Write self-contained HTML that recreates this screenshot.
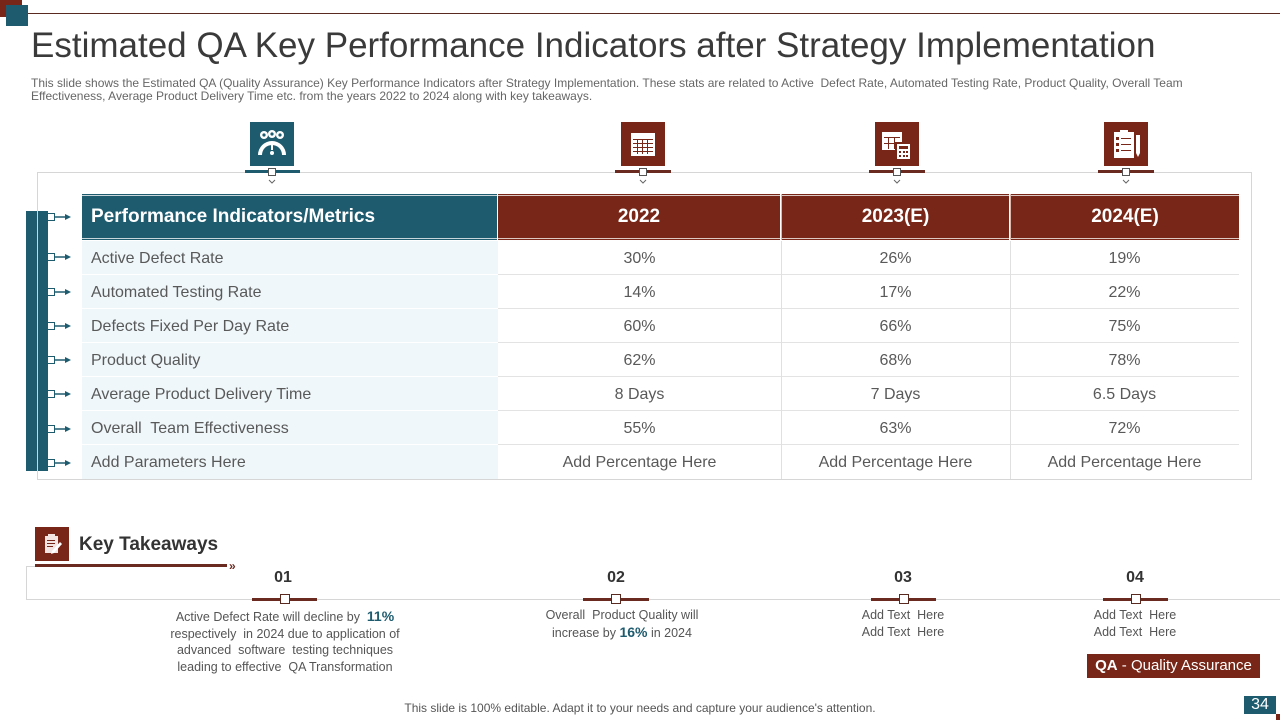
<!DOCTYPE html>
<html><head><meta charset="utf-8">
<style>
*{margin:0;padding:0;box-sizing:border-box}
body{width:1280px;height:720px;position:relative;background:#fff;font-family:"Liberation Sans",Arial,sans-serif;overflow:hidden;color:#555}
.a{position:absolute}
.t{white-space:nowrap}
.teal{background:#1e5b6f}
.brown{background:#772617}
.hc{position:absolute;top:194px;height:46px;color:#fff;font-weight:bold;font-size:19px;line-height:46px;text-align:center}
.hc:before{content:"";position:absolute;left:0;right:0;top:1px;height:1px;background:rgba(255,255,255,.75)}
.hc:after{content:"";position:absolute;left:0;right:0;bottom:1px;height:1px;background:rgba(255,255,255,.75)}
.cell{position:absolute;height:34px;line-height:35px;font-size:16px;color:#595959;white-space:nowrap}
.c1{left:82px;width:416px;background:#eff7fa;padding-left:9px;border-bottom:1px solid #fff}
.cd{text-align:center;border-bottom:1px solid #e3e3e3}
.num{position:absolute;top:569px;font-size:16px;font-weight:bold;color:#333;width:60px;text-align:center}
.bar{position:absolute;top:598px;height:3px;background:#6b2a20}
.sq{position:absolute;top:594px;width:10px;height:10px;background:#fff;border:1px solid #5a2a20}
.tk{position:absolute;font-size:12.5px;line-height:16.5px;color:#555;text-align:center;white-space:nowrap}
.tk b{color:#1e5b6f;font-size:14px}
</style></head><body>

<div class="a brown" style="left:0;top:0;width:22px;height:17px"></div>
<div class="a teal" style="left:6px;top:5px;width:22px;height:21px"></div>
<div class="a" style="left:28px;top:13px;width:1252px;height:1px;background:#5a2a20"></div>

<div class="a t" style="left:31px;top:26px;font-size:35px;color:#3a3a3a;line-height:40px">Estimated QA Key Performance Indicators after Strategy Implementation</div>
<div class="a t" style="left:31px;top:77px;font-size:12px;line-height:13px;color:#666">This slide shows the Estimated QA (Quality Assurance) Key Performance Indicators after Strategy Implementation. These stats are related to Active&nbsp; Defect Rate, Automated Testing Rate, Product Quality, Overall Team<br>Effectiveness, Average Product Delivery Time etc. from the years 2022 to 2024 along with key takeaways.</div>

<div class="a" style="left:37px;top:172px;width:1215px;height:308px;border:1px solid #d6d6d6"></div>

<div class="a teal" style="left:26px;top:211px;width:22px;height:260px"></div>
<div class="a" style="left:37px;top:211px;width:1px;height:260px;background:#c9d6db"></div>

<div class="a teal" style="left:250px;top:122px;width:44px;height:44px">
<svg width="44" height="44" viewBox="0 0 44 44"><g fill="#fff"><circle cx="14" cy="13" r="4"/><circle cx="22" cy="12" r="4"/><circle cx="30" cy="13" r="4"/><path d="M8 33 A14 14 0 0 1 36 33 L32 33 A10 10 0 0 0 12 33Z"/><rect x="21" y="22" width="2" height="6"/><circle cx="22" cy="31" r="2"/></g><g fill="#1e5b6f"><circle cx="14" cy="13" r="1.6"/><circle cx="22" cy="12" r="1.6"/><circle cx="30" cy="13" r="1.6"/></g></svg></div>
<div class="a brown" style="left:621px;top:122px;width:44px;height:44px">
<svg width="44" height="44" viewBox="0 0 44 44"><rect x="10" y="11" width="24" height="23" fill="#fff"/><g fill="#772617"><rect x="12" y="17" width="20" height="1"/><rect x="12" y="21" width="20" height="1"/><rect x="12" y="25" width="20" height="1"/><rect x="12" y="29" width="20" height="1"/><rect x="16" y="17" width="1" height="15"/><rect x="21" y="17" width="1" height="15"/><rect x="26" y="17" width="1" height="15"/></g></svg></div>
<div class="a brown" style="left:875px;top:122px;width:44px;height:44px">
<svg width="44" height="44" viewBox="0 0 44 44"><rect x="7" y="10" width="20" height="18" fill="#fff"/><g fill="#772617"><rect x="9" y="15" width="16" height="1"/><rect x="13" y="15" width="1" height="12"/><rect x="19" y="15" width="1" height="12"/><rect x="9" y="21" width="16" height="1"/></g><rect x="20" y="20" width="16" height="18" fill="#772617"/><rect x="22" y="22" width="13" height="15" fill="#fff"/><g fill="#772617"><rect x="24" y="24" width="9" height="3"/><rect x="24" y="29" width="2" height="2"/><rect x="28" y="29" width="2" height="2"/><rect x="31" y="29" width="2" height="2"/><rect x="24" y="33" width="2" height="2"/><rect x="28" y="33" width="2" height="2"/><rect x="31" y="33" width="2" height="2"/></g></svg></div>
<div class="a brown" style="left:1104px;top:122px;width:44px;height:44px">
<svg width="44" height="44" viewBox="0 0 44 44"><rect x="10" y="10" width="20" height="26" fill="#fff"/><rect x="16" y="8" width="8" height="4" fill="#fff"/><g fill="#772617"><rect x="12" y="15" width="3" height="3"/><rect x="17" y="16" width="10" height="1"/><rect x="12" y="21" width="3" height="3"/><rect x="17" y="22" width="10" height="1"/><rect x="12" y="27" width="3" height="3"/><rect x="17" y="28" width="10" height="1"/></g><path d="M32 13h4v18l-2 4-2-4z" fill="#fff"/></svg></div>

<svg class="a" style="left:0;top:165px" width="1280" height="24">
<g fill="#1e5b6f"><rect x="245" y="5" width="55" height="3"/></g>
<g fill="#6b2a20"><rect x="615" y="5" width="56" height="3"/><rect x="869" y="5" width="56" height="3"/><rect x="1098" y="5" width="56" height="3"/></g>
<g fill="#fff" stroke="#555" stroke-width="1"><rect x="268.5" y="3.5" width="7" height="7"/><rect x="639.5" y="3.5" width="7" height="7"/><rect x="893.5" y="3.5" width="7" height="7"/><rect x="1122.5" y="3.5" width="7" height="7"/></g>
<g fill="none" stroke="#666" stroke-width="1"><polyline points="269,15 272,18 275,15"/><polyline points="640,15 643,18 646,15"/><polyline points="894,15 897,18 900,15"/><polyline points="1123,15 1126,18 1129,15"/></g>
</svg>

<div class="hc teal" style="left:82px;width:415px;text-align:left;padding-left:9px">Performance Indicators/Metrics</div>
<div class="hc brown" style="left:498px;width:282px">2022</div>
<div class="hc brown" style="left:782px;width:227px">2023(E)</div>
<div class="hc brown" style="left:1011px;width:228px">2024(E)</div>

<div class="cell c1" style="top:241px">Active Defect Rate</div>
<div class="cell c1" style="top:275px">Automated Testing Rate</div>
<div class="cell c1" style="top:309px">Defects Fixed Per Day Rate</div>
<div class="cell c1" style="top:343px">Product Quality</div>
<div class="cell c1" style="top:377px">Average Product Delivery Time</div>
<div class="cell c1" style="top:411px">Overall&nbsp; Team Effectiveness</div>
<div class="cell c1" style="top:445px;border-bottom:none">Add Parameters Here</div>

<div class="cell cd" style="top:241px;left:498px;width:283px">30%</div>
<div class="cell cd" style="top:275px;left:498px;width:283px">14%</div>
<div class="cell cd" style="top:309px;left:498px;width:283px">60%</div>
<div class="cell cd" style="top:343px;left:498px;width:283px">62%</div>
<div class="cell cd" style="top:377px;left:498px;width:283px">8 Days</div>
<div class="cell cd" style="top:411px;left:498px;width:283px">55%</div>
<div class="cell cd" style="top:445px;left:498px;width:283px;border-bottom:none">Add Percentage Here</div>

<div class="cell cd" style="top:241px;left:781px;width:229px">26%</div>
<div class="cell cd" style="top:275px;left:781px;width:229px">17%</div>
<div class="cell cd" style="top:309px;left:781px;width:229px">66%</div>
<div class="cell cd" style="top:343px;left:781px;width:229px">68%</div>
<div class="cell cd" style="top:377px;left:781px;width:229px">7 Days</div>
<div class="cell cd" style="top:411px;left:781px;width:229px">63%</div>
<div class="cell cd" style="top:445px;left:781px;width:229px;border-bottom:none">Add Percentage Here</div>

<div class="cell cd" style="top:241px;left:1010px;width:229px">19%</div>
<div class="cell cd" style="top:275px;left:1010px;width:229px">22%</div>
<div class="cell cd" style="top:309px;left:1010px;width:229px">75%</div>
<div class="cell cd" style="top:343px;left:1010px;width:229px">78%</div>
<div class="cell cd" style="top:377px;left:1010px;width:229px">6.5 Days</div>
<div class="cell cd" style="top:411px;left:1010px;width:229px">72%</div>
<div class="cell cd" style="top:445px;left:1010px;width:229px;border-bottom:none">Add Percentage Here</div>

<div class="a" style="left:781px;top:241px;width:1px;height:238px;background:#e0e0e0"></div>
<div class="a" style="left:1010px;top:241px;width:1px;height:238px;background:#e0e0e0"></div>
<div class="a" style="left:781px;top:194px;width:1px;height:46px;background:#d9b8b0"></div>
<div class="a" style="left:1010px;top:194px;width:1px;height:46px;background:#d9b8b0"></div>

<svg class="a" style="left:0;top:0" width="80" height="480">
<g stroke="#1e5b6f" stroke-width="1.5" fill="#fff">
<line x1="54" y1="217" x2="66" y2="217"/><line x1="54" y1="257" x2="66" y2="257"/><line x1="54" y1="292" x2="66" y2="292"/><line x1="54" y1="326" x2="66" y2="326"/><line x1="54" y1="360" x2="66" y2="360"/><line x1="54" y1="394" x2="66" y2="394"/><line x1="54" y1="429" x2="66" y2="429"/><line x1="54" y1="463" x2="66" y2="463"/>
</g>
<g fill="#1e5b6f">
<path d="M65 214l6 3-6 3z"/><path d="M65 254l6 3-6 3z"/><path d="M65 289l6 3-6 3z"/><path d="M65 323l6 3-6 3z"/><path d="M65 357l6 3-6 3z"/><path d="M65 391l6 3-6 3z"/><path d="M65 426l6 3-6 3z"/><path d="M65 460l6 3-6 3z"/>
</g>
<g fill="#fff" stroke="#1e5b6f" stroke-width="1">
<rect x="47.5" y="213.5" width="7" height="7"/><rect x="47.5" y="253.5" width="7" height="7"/><rect x="47.5" y="288.5" width="7" height="7"/><rect x="47.5" y="322.5" width="7" height="7"/><rect x="47.5" y="356.5" width="7" height="7"/><rect x="47.5" y="390.5" width="7" height="7"/><rect x="47.5" y="425.5" width="7" height="7"/><rect x="47.5" y="459.5" width="7" height="7"/>
</g>
</svg>

<div class="a brown" style="left:35px;top:527px;width:34px;height:34px">
<svg width="34" height="34" viewBox="0 0 34 34"><rect x="10" y="9" width="13" height="17" fill="#f3e6e2"/><rect x="13" y="7" width="7" height="3" fill="#f3e6e2"/><g fill="#772617"><rect x="12" y="13" width="8" height="1"/><rect x="12" y="16" width="8" height="1"/><rect x="12" y="19" width="6" height="1"/></g><path d="M17 24l8-9 2 2-8 9-3 1z" fill="#fff"/></svg></div>
<div class="a t" style="left:79px;top:533px;font-size:19px;font-weight:bold;color:#333;line-height:24px">Key Takeaways</div>
<div class="a" style="left:35px;top:564px;width:192px;height:3px;background:#6b2a20"></div>
<div class="a t" style="left:229px;top:558px;font-size:12px;font-weight:bold;color:#6b2a20;line-height:16px">»</div>
<div class="a" style="left:26px;top:566px;width:9px;height:1px;background:#d6d6d6"></div>
<div class="a" style="left:26px;top:566px;width:1px;height:33px;background:#d6d6d6"></div>
<div class="a" style="left:26px;top:599px;width:1254px;height:1px;background:#d6d6d6"></div>

<div class="num" style="left:253px">01</div>
<div class="num" style="left:586px">02</div>
<div class="num" style="left:873px">03</div>
<div class="num" style="left:1105px">04</div>

<div class="bar" style="left:252px;width:65px"></div><div class="sq" style="left:280px"></div>
<div class="bar" style="left:583px;width:66px"></div><div class="sq" style="left:611px"></div>
<div class="bar" style="left:871px;width:65px"></div><div class="sq" style="left:899px"></div>
<div class="bar" style="left:1103px;width:65px"></div><div class="sq" style="left:1131px"></div>

<div class="tk" style="left:135px;width:300px;top:608px">Active Defect Rate will decline by&nbsp; <b>11%</b><br>respectively&nbsp; in 2024 due to application of<br>advanced&nbsp; software&nbsp; testing techniques<br>leading to effective&nbsp; QA Transformation</div>
<div class="tk" style="left:472px;width:300px;top:607px">Overall&nbsp; Product Quality will<br>increase by <b>16%</b> in 2024</div>
<div class="tk" style="left:803px;width:200px;top:607px">Add Text&nbsp; Here<br>Add Text&nbsp; Here</div>
<div class="tk" style="left:1035px;width:200px;top:607px">Add Text&nbsp; Here<br>Add Text&nbsp; Here</div>

<div class="a brown t" style="left:1087px;top:654px;width:173px;height:24px;line-height:24px;color:#fff;font-size:15px;text-align:center"><b>QA</b> - Quality Assurance</div>

<div class="a t" style="left:0;width:1280px;top:701px;text-align:center;font-size:12px;color:#555;line-height:15px">This slide is 100% editable. Adapt it to your needs and capture your audience's attention.</div>

<div class="a teal t" style="left:1244px;top:696px;width:32px;height:18px;line-height:18px;color:#fff;font-size:16px;text-align:center">34</div>
<div class="a brown" style="left:1276px;top:714px;width:4px;height:6px"></div>
</body></html>
